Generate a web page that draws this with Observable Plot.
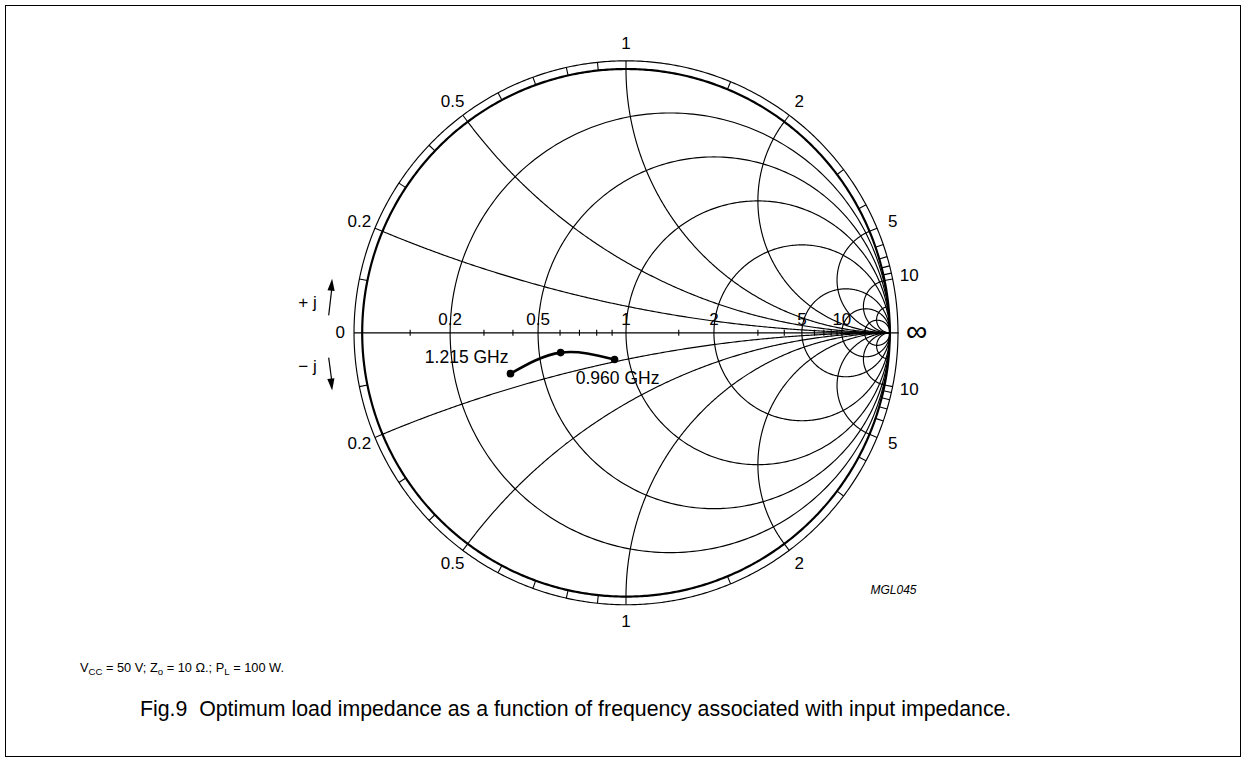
<!DOCTYPE html>
<html><head><meta charset="utf-8">
<script src="https://cdn.jsdelivr.net/npm/d3@7"></script>
<script src="https://cdn.jsdelivr.net/npm/@observablehq/plot@0.6"></script>
<style>
html,body{margin:0;padding:0;background:#fff;}
body{width:1247px;height:763px;position:relative;overflow:hidden;font-family:"Liberation Sans",Arial,sans-serif;color:#000;}
#frame{position:absolute;left:5px;top:5px;width:1236px;height:752px;border:1.5px solid #000;box-sizing:border-box;}
#chart{position:absolute;left:0;top:0;}
#cond{position:absolute;left:80px;top:662px;font-size:12.8px;line-height:1;white-space:nowrap;}
#cond sub{font-size:0.75em;vertical-align:-0.35em;line-height:0;}
#title{position:absolute;left:140px;top:699px;font-size:21.3px;line-height:1;white-space:nowrap;}
</style></head><body>
<div id="frame"></div>
<div id="chart"></div>
<div id="cond">V<sub>CC</sub> = 50 V; Z<sub>o</sub> = 10 Ω.; P<sub>L</sub> = 100 W.</div>
<div id="title">Fig.9&nbsp;&nbsp;Optimum load impedance as a function of frequency associated with input impedance.</div>
<script>
// ---- data ----
const Z0 = 10;                                   // ohms
const freqLabels = ["1.215 GHz", "", "0.960 GHz"];
const loadR = [3.75, 5.97, 8.99];                // ohms
const loadX = [-1.48, -0.96, -1.84];             // ohms
const rCircles = [0.2, 0.5, 1, 2, 5, 10, 20];
const xArcs = [0.2, 0.5, 1, 2, 5, 10, 20];
const minorTicks = [0.1, 0.3, 0.4, 0.6, 0.7, 0.8, 0.9, 1.5, 3, 4, 6, 7, 8, 9];
const tickLabels = [0.2, 0.5, 1, 2, 5, 10];

// ---- geometry helpers ----
function gamma(r, x) {
  const den = (r + 1) ** 2 + x * x;
  return [(r * r + x * x - 1) / den, 2 * x / den];
}
const RING = 1.031, LABR = 1.095;
const grid = [];
rCircles.forEach(r => {
  const c = r / (r + 1), rho = 1 / (r + 1);
  for (let i = 0; i <= 360; i++) {
    const a = i * Math.PI / 180;
    grid.push({id: "r" + r, gx: c + rho * Math.cos(a), gy: rho * Math.sin(a)});
  }
});
xArcs.forEach(x => {
  const g0 = gamma(0, x);
  let a0 = Math.atan2(g0[1] - 1 / x, g0[0] - 1);
  if (a0 < 0) a0 += 2 * Math.PI;
  const a1 = 1.5 * Math.PI, n = 300;
  for (const s of [1, -1]) {
    for (let i = 0; i <= n; i++) {
      const a = a0 + (a1 - a0) * i / n;
      grid.push({id: "x" + s * x, gx: 1 + Math.cos(a) / x, gy: s * (1 / x + Math.sin(a) / x)});
    }
  }
});
const unit = [], outer = [];
for (let i = 0; i <= 720; i++) {
  const a = i * Math.PI / 360;
  unit.push({gx: Math.cos(a), gy: Math.sin(a)});
  outer.push({gx: RING * Math.cos(a), gy: RING * Math.sin(a)});
}
const ringTicks = [];
[...minorTicks, ...tickLabels].forEach(v => [1, -1].forEach(s => {
  const g = gamma(0, s * v);
  ringTicks.push({x1: g[0], y1: g[1], x2: g[0] * RING, y2: g[1] * RING});
}));
const ringLabels = [];
tickLabels.forEach(v => [1, -1].forEach(s => {
  const g = gamma(0, s * v);
  ringLabels.push({gx: g[0] * LABR, gy: g[1] * LABR, t: String(v)});
}));
const axisTicks = minorTicks.map(v => ({g: gamma(v, 0)[0]}));
const axisLabels = tickLabels.map(v => ({g: gamma(v, 0)[0], t: String(v)}));

const load = loadR.map((r, i) => {
  const g = gamma(r / Z0, loadX[i] / Z0);
  return {gx: g[0], gy: g[1], f: freqLabels[i]};
});

const arrowHead = {draw(ctx) { ctx.moveTo(0, 0); ctx.lineTo(3.6, 12); ctx.lineTo(-3.6, 12); ctx.closePath(); }};

const cx = 625.5, cy = 332.3, R = 263.8;
const font = "'Liberation Sans', Arial, Helvetica, sans-serif";
const FS = 17;

const chart = Plot.plot({
  width: 1247, height: 640,
  marginTop: 0, marginRight: 0, marginBottom: 0, marginLeft: 0,
  x: {domain: [-1, 1], range: [cx - R, cx + R], axis: null},
  y: {domain: [-1, 1], range: [cy + R, cy - R], axis: null},
  style: {fontFamily: font, fontSize: FS + "px", color: "#000", background: "transparent", overflow: "visible"},
  marks: [
    Plot.line(grid, {x: "gx", y: "gy", z: "id", stroke: "#000", strokeWidth: 1.15}),
    Plot.line(outer, {x: "gx", y: "gy", stroke: "#000", strokeWidth: 1.15}),
    Plot.line(unit, {x: "gx", y: "gy", stroke: "#000", strokeWidth: 2.2}),
    Plot.link(ringTicks, {x1: "x1", y1: "y1", x2: "x2", y2: "y2", stroke: "#000", strokeWidth: 1.1}),
    Plot.link([{a: -RING, b: RING + 0.003}], {x1: "a", x2: "b", y1: () => 0, y2: () => 0, stroke: "#000", strokeWidth: 1.15}),
    Plot.link(axisTicks, {x1: "g", x2: "g", y1: () => -0.0115, y2: () => 0.0115, stroke: "#000", strokeWidth: 1.1}),
    Plot.text(axisLabels, {x: "g", y: () => 0, text: "t", dy: -13, fontSize: FS, lineAnchor: "middle"}),
    Plot.text(ringLabels, {x: "gx", y: "gy", text: "t", fontSize: FS, lineAnchor: "middle"}),
    Plot.text([{t: "0"}], {x: () => -1, y: () => 0, text: "t", dx: -22, fontSize: FS, lineAnchor: "middle"}),
    Plot.text([{t: "∞"}], {x: () => 1, y: () => 0, text: "t", dx: 27, dy: -1, fontSize: 30, lineAnchor: "middle"}),
    // ± j annotations with arrows
    Plot.text([{t: "+ j", gx: -1.207, gy: 0.115}, {t: "− j", gx: -1.207, gy: -0.127}],
      {x: "gx", y: "gy", text: "t", fontSize: FS, lineAnchor: "middle"}),
    Plot.link([{x1: -1.127, y1: 0.066, x2: -1.115, y2: 0.17}, {x1: -1.127, y1: -0.094, x2: -1.115, y2: -0.185}],
      {x1: "x1", y1: "y1", x2: "x2", y2: "y2", stroke: "#000", strokeWidth: 1.2}),
    Plot.dot([{gx: -1.114, gy: 0.205, a: 5}, {gx: -1.114, gy: -0.219, a: 174}],
      {x: "gx", y: "gy", rotate: "a", symbol: arrowHead, fill: "#000", stroke: "none", r: 5}),
    // load impedance locus
    Plot.line(load, {x: "gx", y: "gy", curve: "natural", stroke: "#000", strokeWidth: 2.6}),
    Plot.dot(load, {x: "gx", y: "gy", r: 3.8, fill: "#000", stroke: "none"}),
    Plot.text(load.filter((d, i) => i === 0), {x: "gx", y: "gy", text: "f", textAnchor: "end", dx: -2, dy: -16, fontSize: 17.5, lineAnchor: "middle"}),
    Plot.text(load.filter((d, i) => i === 2), {x: "gx", y: "gy", text: "f", textAnchor: "middle", dx: 3, dy: 19, fontSize: 17.5, lineAnchor: "middle"}),
    Plot.text([{t: "MGL045", gx: 1.014, gy: -0.974}], {x: "gx", y: "gy", text: "t", fontSize: 12, fontStyle: "italic", lineAnchor: "middle"})
  ]
});
document.getElementById("chart").appendChild(chart);
</script>
</body></html>
